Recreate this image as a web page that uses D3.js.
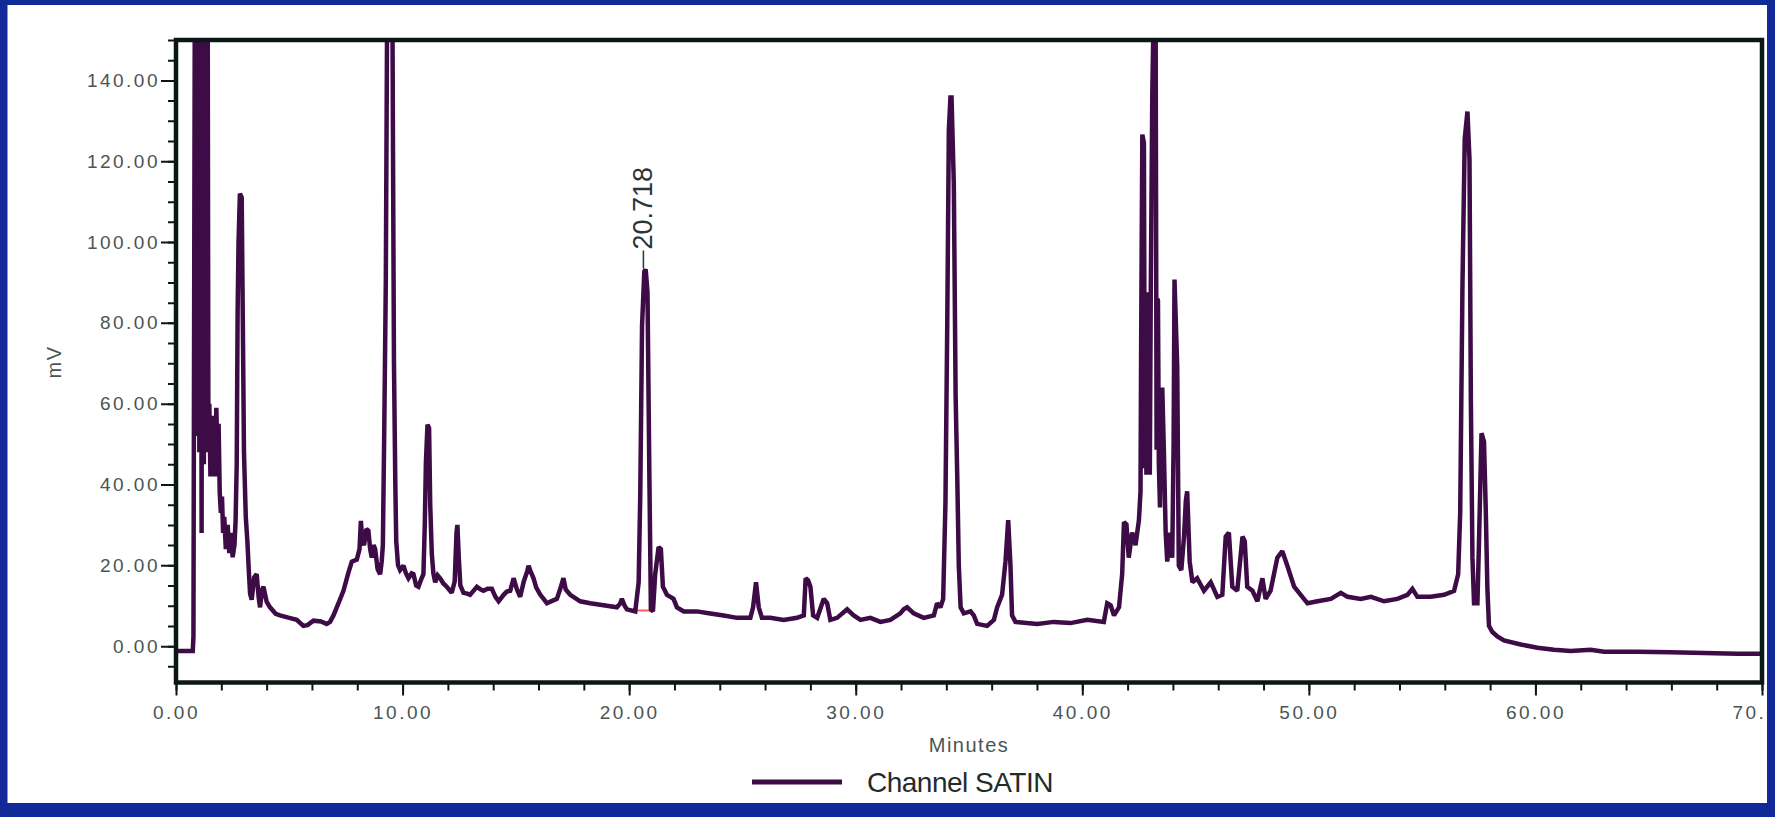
<!DOCTYPE html>
<html>
<head>
<meta charset="utf-8">
<script src="https://cdn.jsdelivr.net/npm/d3@7"></script>
<style>
  html, body { margin: 0; padding: 0; background: #12299a; }
  svg { display: block; }
  text { font-family: "Liberation Sans", Arial, sans-serif; }
</style>
</head>
<body>
<svg id="chart" width="1775" height="817"></svg>
<script>
// ---- Data ----
const xTickValues = [0, 10, 20, 30, 40, 50, 60, 70];
const yTickValues = [0, 20, 40, 60, 80, 100, 120, 140];
const xLabel = "Minutes";
const yLabel = "mV";
const seriesName = "Channel SATIN";
const peakLabelTime = [20.718];
const peakLabelText = ["20.718"];
const peakLabelValue = [93.2];
const integrationMark = [[20.3, 8.8], [21.1, 8.8]];

const times = [
  0.00, 0.74, 0.77, 0.79, 0.83, 0.88, 0.93, 0.98, 1.03, 1.08, 1.13, 1.18, 1.23, 1.28, 1.33, 1.38,
  1.43, 1.47, 1.52, 1.57, 1.62, 1.67, 1.72, 1.78, 1.84, 1.88, 1.93, 1.98, 2.03, 2.08, 2.13, 2.20,
  2.28, 2.35, 2.42, 2.50, 2.58, 2.63, 2.68, 2.72, 2.76, 2.82, 2.90, 2.95, 3.00, 3.08, 3.15, 3.22,
  3.27, 3.34, 3.45, 3.56, 3.65, 3.71, 3.80, 3.86, 4.00, 4.15, 4.40, 4.59, 5.00, 5.33, 5.62, 5.80,
  6.07, 6.40, 6.65, 6.80, 6.95, 7.20, 7.39, 7.60, 7.76, 7.98, 8.10, 8.16, 8.22, 8.30, 8.40, 8.49,
  8.57, 8.64, 8.72, 8.79, 8.90, 9.01, 9.08, 9.13, 9.19, 9.26, 9.33, 9.42, 9.52, 9.58, 9.62, 9.68,
  9.72, 9.80, 9.89, 10.04, 10.15, 10.26, 10.40, 10.48, 10.60, 10.70, 10.82, 10.92, 10.98, 11.03, 11.10, 11.17,
  11.22, 11.29, 11.36, 11.44, 11.55, 11.66, 11.80, 11.95, 12.17, 12.30, 12.38, 12.42, 12.48, 12.55, 12.69, 12.85,
  12.98, 13.10, 13.28, 13.45, 13.57, 13.75, 13.94, 14.10, 14.24, 14.46, 14.60, 14.75, 14.90, 15.05, 15.19, 15.35,
  15.50, 15.56, 15.65, 15.78, 15.90, 16.08, 16.25, 16.37, 16.60, 16.81, 16.95, 17.10, 17.20, 17.40,
  17.84, 18.28, 18.87, 19.46, 19.60, 19.68, 19.80, 19.90, 20.27, 20.42, 20.49, 20.57, 20.67, 20.73, 20.81, 20.89,
  20.96, 21.05, 21.15, 21.30, 21.40, 21.49, 21.67, 21.82, 21.96, 22.11, 22.41, 22.99, 23.58, 24.17, 24.76, 25.35,
  25.47, 25.60, 25.72, 25.86, 26.23, 26.82, 27.41, 27.71, 27.79, 27.90, 28.00, 28.12, 28.30, 28.59, 28.74, 28.88,
  29.18, 29.62, 29.91, 30.21, 30.65, 31.09, 31.53, 31.97, 32.12, 32.27, 32.56, 33.00, 33.45, 33.59, 33.74, 33.86,
  33.96, 34.04, 34.11, 34.18, 34.23, 34.33, 34.41, 34.48, 34.55, 34.63, 34.77, 35.07,
  35.21, 35.36, 35.80, 36.10, 36.24, 36.46, 36.61, 36.73, 36.83, 36.90, 37.05, 38.01, 38.74, 39.48, 40.22, 40.95,
  41.10, 41.25, 41.40, 41.62, 41.76, 41.84, 41.95, 42.05, 42.20, 42.35, 42.50, 42.57, 42.60, 42.65, 42.72, 42.76,
  42.79, 42.83, 42.87, 42.90, 42.94, 42.98, 43.02, 43.09, 43.16, 43.22, 43.28, 43.31, 43.34, 43.38, 43.43, 43.48,
  43.53, 43.60, 43.68, 43.75, 43.85, 43.97, 44.03, 44.07, 44.19, 44.26, 44.37, 44.49, 44.57, 44.63, 44.74, 44.86,
  45.07, 45.37, 45.67, 45.96, 46.18, 46.33, 46.47, 46.62, 46.84, 47.07, 47.17, 47.28, 47.51, 47.73, 47.95, 48.09,
  48.31, 48.61, 48.83, 49.05, 49.35, 49.64, 49.94, 50.38, 50.97, 51.41, 51.71, 52.29, 52.74,
  53.32, 53.91, 54.35, 54.57, 54.79, 55.38, 55.97, 56.41, 56.59, 56.68, 56.78, 56.88, 57.00, 57.09, 57.15, 57.22,
  57.29, 57.44, 57.51, 57.62, 57.73, 57.81, 57.88, 57.95, 58.10, 58.32, 58.61, 59.35, 60.09, 60.82, 61.56, 62.44,
  63.03, 64.50, 65.97, 67.45, 68.92, 70.00
];

const millivolts = [
  -1.2, -1.2, 2.4, 54.8, 160, 250, 52, 300, 48, 260, 28, 280, 45, 250, 52, 230,
  48, 60, 42, 56, 43, 57, 42, 59, 44, 55, 38, 33, 37, 28, 32, 24,
  30, 23, 28, 22, 25, 31, 45, 83, 100, 112, 111, 80, 48, 32, 26, 18,
  13, 11.5, 17, 17.8, 12, 9.6, 14, 14.7, 11, 9.6, 8, 7.6, 7, 6.5, 5.0, 5.2,
  6.3, 6.1, 5.5, 6.0, 7.6, 11, 13.7, 18, 20.9, 21.4, 24, 31, 26, 25, 29, 28.6,
  24, 21.9, 25, 24, 19, 17.8, 21, 25, 52.7, 90, 170, 260, 200, 120, 70, 40,
  26, 20, 18.8, 19.9, 18, 16.8, 18, 17.8, 15, 14.7, 16.5, 17.8, 30, 45.5, 54.8, 54,
  35, 22.9, 18, 15.8, 17.5, 16.8, 15.5, 14.7, 13.2, 16, 28, 30, 22, 15, 13.2, 13,
  12.7, 13.5, 14.7, 14.0, 13.7, 14.2, 14.2, 12.2, 11.1, 12.7, 13.5, 13.7, 16.8, 14.0, 12.2, 16,
  18.5, 19.9, 18.5, 16.8, 14.5, 12.7, 11.5, 10.6, 11.2, 11.7, 14, 16.8, 14, 12.7,
  11.1, 10.6, 10.1, 9.6, 10.5, 11.7, 10, 9.1, 8.6, 15.8, 37.3, 79.4, 92.7, 93.2, 87.6, 43.5,
  9.1, 8.6, 17.8, 24.5, 24.0, 14.7, 12.7, 12.2, 11.7, 9.6, 8.6, 8.6, 8.1, 7.6, 7.0, 7.0,
  9.6, 15.8, 9.6, 7.0, 7.0, 6.5, 7.0, 7.6, 16.8, 16.3, 14.7, 7.6, 7.0, 11.7, 10.6, 6.5,
  7.0, 9.1, 7.6, 6.5, 7.0, 6.0, 6.5, 8.1, 9.1, 9.6, 8.1, 7.0, 7.6, 10.6, 9.6, 11.7,
  35.3, 79.4, 127.6, 135.8, 135.8, 114.3, 61.9, 42.4, 19.9, 9.6, 8.1, 8.6,
  7.6, 5.5, 5.0, 6.5, 9.6, 12.7, 20.9, 31.2, 19.9, 7.6, 6.0, 5.5, 6.0, 5.7, 6.5, 6.0,
  10.6, 10.1, 7.6, 9.6, 17.8, 30.7, 30.1, 21.9, 28.1, 25.0, 31.2, 38.3, 77.3, 126.6, 124.5, 44,
  86, 42.4, 87.6, 45, 84, 42.4, 85.5, 136.9, 160, 200, 48.6, 86, 85.5, 45, 34.3, 60,
  64.0, 48.6, 28.1, 20.9, 28.1, 21.9, 50, 90.7, 69.1, 19.9, 18.8, 27.1, 36, 38.3, 20.9, 15.8,
  16.8, 13.7, 15.8, 12.2, 12.7, 27.1, 28.1, 14.7, 13.7, 27.1, 26.0, 14.7, 13.7, 11.1, 16.8, 11.7,
  13.7, 21.9, 23.5, 19.9, 14.7, 12.7, 10.6, 11.1, 11.7, 13.2, 12.2, 11.7, 12.2,
  11.1, 11.7, 12.7, 14.2, 12.2, 12.2, 12.7, 13.7, 17.8, 33.2, 89.6, 125.6, 132.3, 120.4, 60.9, 21.9,
  10.6, 10.6, 26.0, 52.7, 50.6, 33.2, 14.2, 5.0, 3.5, 2.4, 1.4, 0.4, -0.4, -0.9, -1.2, -0.9,
  -1.4, -1.4, -1.5, -1.7, -1.9, -1.9
];

// ---- Layout ----
const W = 1775, H = 817;
const plot = { left: 176, right: 1762, top: 40, bottom: 682.5 };
const lineColor = "#3d0b45";
const frameColor = "#0b1616";
const labelColor = "#4a5454";

const svg = d3.select("#chart");

// slide background and white panel
svg.append("rect").attr("x", 0).attr("y", 0).attr("width", W).attr("height", H).attr("fill", "#12299a");
svg.append("rect").attr("x", 7.5).attr("y", 5).attr("width", 1759.5).attr("height", 798).attr("fill", "#ffffff");

const defs = svg.append("defs");
defs.append("clipPath").attr("id", "panelClip")
  .append("rect").attr("x", 7.5).attr("y", 5).attr("width", 1759.5).attr("height", 798);
defs.append("clipPath").attr("id", "plotClip")
  .append("rect").attr("x", plot.left).attr("y", plot.top)
  .attr("width", plot.right - plot.left).attr("height", plot.bottom - plot.top);

const root = svg.append("g").attr("clip-path", "url(#panelClip)");

const x = d3.scaleLinear().domain([0, 70]).range([plot.left, plot.right]);
const y = d3.scaleLinear().domain([-9, 150]).range([plot.bottom, plot.top]);

// ---- Axes ----
function styleAxis(g) {
  g.select(".domain").remove();
  g.selectAll(".tick line").attr("stroke", frameColor).attr("stroke-width", 2);
  g.selectAll(".tick text")
    .attr("fill", labelColor)
    .style("font-size", "19px")
    .style("letter-spacing", "2.5px");
}

// minor x ticks
root.append("g")
  .attr("transform", `translate(0,${plot.bottom})`)
  .call(d3.axisBottom(x).tickValues(d3.range(0, 71, 2)).tickSize(8).tickFormat(""))
  .call(styleAxis);
// major x ticks with labels
root.append("g")
  .attr("transform", `translate(0,${plot.bottom})`)
  .call(d3.axisBottom(x).tickValues(xTickValues).tickSize(13).tickPadding(10).tickFormat(d3.format(".2f")))
  .call(styleAxis);

// minor y ticks
root.append("g")
  .attr("transform", `translate(${plot.left},0)`)
  .call(d3.axisLeft(y).tickValues(d3.range(-5, 151, 5)).tickSize(8).tickFormat(""))
  .call(styleAxis);
// major y ticks with labels
root.append("g")
  .attr("transform", `translate(${plot.left},0)`)
  .call(d3.axisLeft(y).tickValues(yTickValues).tickSize(15).tickPadding(1).tickFormat(d3.format(".2f")))
  .call(styleAxis);

// ---- Trace ----
const data = times.map((t, i) => [t, millivolts[i]]);
const line = d3.line().x(d => x(d[0])).y(d => y(d[1]));

const plotG = root.append("g").attr("clip-path", "url(#plotClip)");

// integration baseline marker (red)
plotG.append("path")
  .attr("d", line(integrationMark))
  .attr("fill", "none")
  .attr("stroke", "#ff5a5a")
  .attr("stroke-width", 2);

plotG.append("path")
  .datum(data)
  .attr("d", line)
  .attr("fill", "none")
  .attr("stroke", lineColor)
  .attr("stroke-width", 4.5)
  .attr("stroke-linejoin", "miter")
  .attr("stroke-miterlimit", 2);

// ---- Peak label ----
peakLabelTime.forEach((t, i) => {
  const px = x(t), py = y(peakLabelValue[i]);
  root.append("line")
    .attr("x1", px - 2).attr("x2", px - 2)
    .attr("y1", py - 1).attr("y2", py - 19)
    .attr("stroke", "#2a3636").attr("stroke-width", 1.5);
  root.append("text")
    .attr("transform", `translate(${px + 7},${py - 20}) rotate(-90)`)
    .attr("text-anchor", "start")
    .attr("fill", "#2a3636")
    .style("font-size", "27px")
    .text(peakLabelText[i]);
});

// ---- Frame ----
root.append("rect")
  .attr("x", plot.left).attr("y", plot.top)
  .attr("width", plot.right - plot.left).attr("height", plot.bottom - plot.top)
  .attr("fill", "none").attr("stroke", frameColor).attr("stroke-width", 4.5);

// ---- Axis titles ----
root.append("text")
  .attr("x", (plot.left + plot.right) / 2).attr("y", 752)
  .attr("text-anchor", "middle")
  .attr("fill", labelColor)
  .style("font-size", "20px").style("letter-spacing", "1.5px")
  .text(xLabel);

root.append("text")
  .attr("transform", `translate(61,362) rotate(-90)`)
  .attr("text-anchor", "middle")
  .attr("fill", labelColor)
  .style("font-size", "20px").style("letter-spacing", "1.5px")
  .text(yLabel);

// ---- Legend ----
root.append("line")
  .attr("x1", 752).attr("x2", 842).attr("y1", 782).attr("y2", 782)
  .attr("stroke", lineColor).attr("stroke-width", 5);
root.append("text")
  .attr("x", 867).attr("y", 792)
  .attr("fill", "#1f2c2c")
  .style("font-size", "28px")
  .style("letter-spacing", "-0.5px")
  .text(seriesName);
</script>
</body>
</html>
